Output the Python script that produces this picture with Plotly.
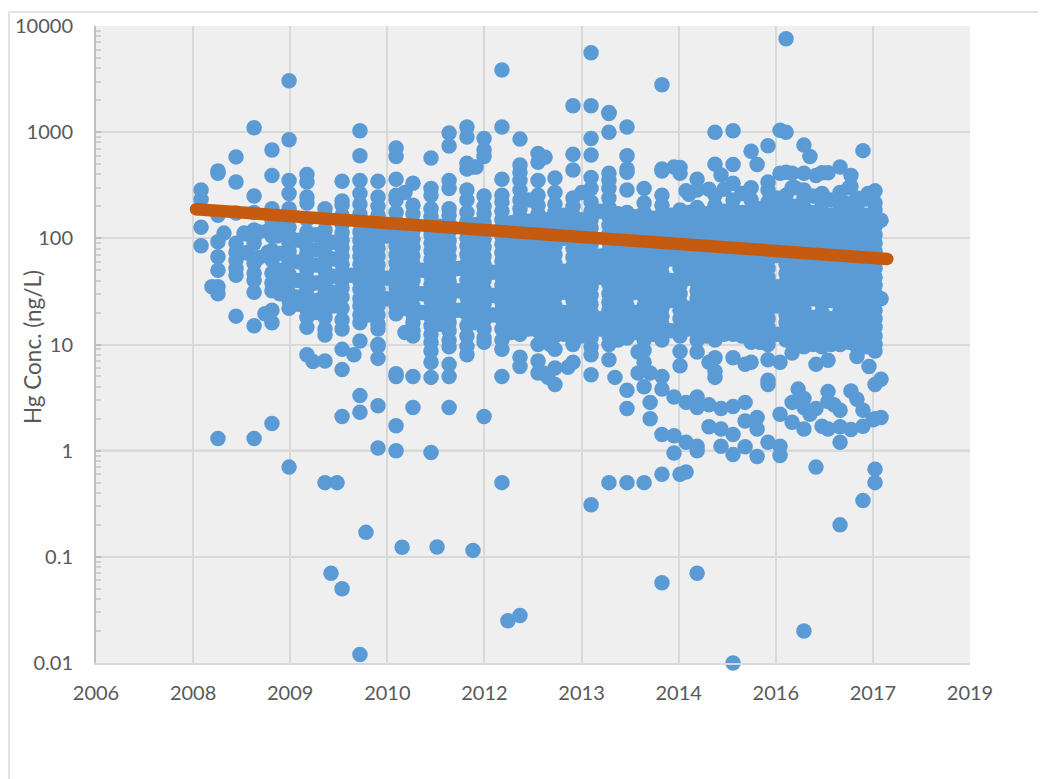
import plotly.graph_objects as go

# Axis: date-style axis measured in days from its start, labelled every 500 days
x_tick_days = [0, 500, 1000, 1500, 2000, 2500, 3000, 3500, 4000, 4500]
x_tick_labels = ["2006", "2008", "2009", "2010", "2012", "2013", "2014", "2016", "2017", "2019"]
y_tick_vals = [0.01, 0.1, 1, 10, 100, 1000, 10000]
y_tick_labels = ["0.01", "0.1", "1", "10", "100", "1000", "10000"]

# Quarterly sampling columns: sample day and Hg concentration (ng/L)
q_days = [541, 628, 721, 814, 906, 994, 1086, 1179, 1267, 1359, 1452, 1545, 1632, 1725, 1818, 1910, 1998, 2090, 2183,
          2276, 2363, 2456, 2549, 2641, 2734, 2822, 2914, 3007, 3095, 3187, 3280, 3373, 3460, 3553, 3645, 3738, 3831, 3918, 4011]
q01 = [285, 232, 127, 85]
q02 = [430, 410, 165, 93, 67, 50, 35, 30, 1.3]
q03 = [585, 340, 173, 90, 74, 62, 52, 45, 18.5]
q04 = [1100, 250, 175, 120, 100, 90, 58, 47, 40, 31, 15, 1.3]
q05 = [680, 390, 190, 150, 124, 105, 77, 62, 47, 38, 32, 21, 16, 1.8]
q06 = [3050, 850, 350, 265, 190, 155, 127, 105, 90, 75, 58, 46, 38, 30, 26, 22, 0.7]
q07 = [400, 340, 245, 215, 150, 115, 100, 82, 72, 62, 50, 42, 33, 27, 21.5, 18, 14.5, 8]
q08 = [190, 150, 120, 100, 85, 72, 60, 50, 42, 36, 30, 25, 21, 18, 14, 12.3, 7, 0.5]
q09 = [345, 225, 205, 165, 135, 113, 96, 81, 68, 57, 48, 40, 34, 28, 22, 17, 14, 9, 5.8, 2.1, 0.05]
q10 = [1030, 600, 350, 265, 210, 170, 140, 115, 96, 80, 68, 57, 47, 39, 33, 27, 23, 19, 16, 10.8, 3.3, 2.3, 0.012]
q11 = [345, 245, 200, 165, 135, 113, 95, 80, 68, 56, 47, 40, 33, 28, 23, 19, 15.5, 14, 10, 9.6, 7.4, 2.65, 1.06]
q12 = [710, 590, 360, 255, 230, 175, 145, 120, 100, 84, 70, 58, 48, 40, 34, 28, 23, 19.5, 5.3, 5, 1.72, 1.0]
q13 = [330, 205, 170, 140, 118, 98, 82, 68, 57, 47, 40, 33, 28, 23, 19, 16, 13.5, 12, 5, 2.55]
q14 = [570, 295, 255, 190, 160, 130, 108, 90, 76, 63, 53, 44, 37, 31, 26, 22, 18, 15, 12.5, 10.5, 8.7, 6.8, 4.9, 0.96]
q15 = [980, 740, 350, 295, 190, 165, 138, 115, 95, 80, 67, 56, 46, 39, 33, 27, 23, 19, 16, 13.5, 11, 9.5, 6.5, 5, 2.55]
q16 = [1120, 900, 510, 450, 285, 230, 175, 145, 120, 100, 84, 70, 58, 48, 40, 33, 28, 23, 19.5, 15, 12, 9.6, 8]
q17 = [870, 680, 590, 250, 200, 170, 140, 118, 98, 82, 68, 57, 47, 40, 33, 28, 24, 20, 17, 14, 11.5, 10.5, 2.1]
q18 = [3850, 1120, 360, 255, 220, 180, 150, 125, 105, 88, 73, 61, 51, 43, 36, 30, 25, 21, 17.5, 14, 11, 9, 5, 0.5]
q19 = [860, 490, 420, 350, 285, 230, 190, 160, 132, 110, 92, 77, 64, 54, 45, 37, 31, 26, 22, 18, 15, 12.5, 7.6, 6.2, 0.028]
q20 = [630, 520, 350, 255, 205, 170, 140, 118, 98, 82, 68, 57, 47, 39, 33, 27, 23, 19, 16, 13.5, 10, 7, 5.4]
q21 = [370, 270, 210, 175, 145, 120, 100, 84, 70, 58, 48, 40, 33, 28, 23, 19, 15, 12, 9, 6, 4.2]
q22 = [1770, 620, 440, 240, 200, 165, 138, 115, 96, 80, 66, 55, 46, 38, 32, 26, 22, 18, 15, 12, 10, 6.8]
q23 = [5600, 1770, 870, 610, 375, 295, 220, 180, 150, 125, 104, 87, 72, 60, 50, 42, 35, 29, 24, 20, 17, 14, 11.5, 9.5, 8, 5.2, 0.31]
q24 = [1530, 1500, 1000, 410, 350, 295, 240, 195, 160, 132, 110, 92, 76, 63, 53, 44, 37, 30, 25, 21, 17.5, 14.5, 12, 10, 7.2, 0.5]
q25 = [1120, 600, 450, 420, 285, 175, 145, 120, 100, 84, 70, 58, 48, 40, 33, 28, 23, 19, 16, 14, 11.5, 3.7, 2.5, 0.5]
q26 = [295, 215, 175, 145, 120, 100, 84, 70, 58, 48, 40, 33, 28, 23, 19, 16, 13.5, 11, 8.8, 6.8, 4, 0.5]
q27 = [2800, 450, 430, 255, 205, 170, 140, 118, 98, 82, 68, 56, 47, 39, 32, 27, 22, 18.5, 15.5, 13, 11, 5, 3.8, 1.42, 0.6, 0.057]
q28 = [465, 410, 185, 155, 130, 108, 90, 75, 62, 52, 43, 36, 30, 25, 21, 17.5, 14.5, 12, 8.6, 6.3, 0.6]
q29 = [360, 285, 195, 165, 138, 115, 96, 80, 67, 55, 46, 38, 32, 27, 22, 18.5, 15.5, 13, 11, 8.5, 3.2, 2.55, 1.1, 1.0, 0.07]
q30 = [1000, 500, 255, 205, 170, 140, 118, 98, 82, 68, 57, 47, 39, 33, 27, 23, 19, 16, 13, 11, 7.5, 5.6, 4.9]
q31 = [1030, 495, 330, 230, 190, 160, 132, 110, 92, 77, 64, 53, 44, 37, 31, 26, 22, 18, 15, 12.5, 7.5, 2.6, 1.42, 0.92, 0.01]
q32 = [660, 300, 230, 190, 160, 132, 110, 92, 77, 64, 53, 44, 37, 31, 26, 22, 18, 15, 12.5, 10.5, 6.8]
q33 = [745, 340, 285, 220, 185, 155, 130, 108, 90, 75, 62, 52, 43, 36, 30, 25, 21, 17.5, 14.5, 12, 10, 7.2, 4.6, 4.2, 1.2]
q34 = [7600, 1000, 420, 255, 200, 170, 140, 118, 98, 82, 68, 57, 47, 39, 33, 27, 23, 19, 16, 13.5, 11]
q35 = [755, 410, 285, 240, 195, 165, 138, 115, 96, 80, 67, 55, 46, 38, 32, 27, 22, 18.5, 15.5, 13, 11, 9.5, 3.1, 2.55, 1.6, 0.02]
q36 = [415, 265, 215, 180, 150, 125, 104, 87, 72, 60, 50, 42, 35, 29, 24, 20, 17, 14, 11.5, 9.5, 1.7]
q37 = [470, 270, 220, 185, 155, 130, 108, 90, 75, 62, 52, 43, 36, 30, 25, 21, 17.5, 14.5, 12, 10, 2.4, 1.68, 1.2, 0.2]
q38 = [240, 200, 170, 140, 118, 98, 82, 68, 57, 47, 39, 33, 27, 23, 19, 16, 13.5, 11, 9.5, 7.7, 3.05]
q39 = [280, 215, 185, 155, 130, 108, 90, 75, 62, 52, 43, 36, 30, 25, 21, 17.5, 14.5, 12, 10, 8.7, 4.2, 2, 0.67, 0.5]
q_values = [q01, q02, q03, q04, q05, q06, q07, q08, q09, q10, q11, q12, q13, q14, q15, q16, q17, q18, q19, q20,
            q21, q22, q23, q24, q25, q26, q27, q28, q29, q30, q31, q32, q33, q34, q35, q36, q37, q38, q39]

# Samples between the quarterly dates, in the dense years
m_days = [947, 1040, 1133, 1220, 1313, 1406, 1498, 1591, 1679, 1771, 1864, 1957, 2044, 2137, 2229, 2322, 2410, 2502, 2595,
          2688, 2775, 2868, 2961, 3053, 3141, 3234, 3326, 3419, 3507, 3599, 3692, 3785, 3877, 3965]
m31 = [72, 50, 30]
m32 = [96, 60, 40, 24]
m33 = [108, 78, 56, 38, 26, 20]
m01 = [92, 64, 44, 31, 23]
m34 = [45]
m02 = [110, 84, 66, 50, 39, 30, 24, 19]
m35 = [105, 42, 27]
m03 = [270, 118, 92, 72, 56, 44, 35, 28, 22, 13]
m36 = [50, 30, 20]
m04 = [130, 100, 79, 62, 49, 39, 31, 25, 20, 15.5]
m37 = [52, 32, 21]
m05 = [470, 135, 105, 83, 65, 51, 41, 32, 26, 20, 16]
m38 = [48, 29, 19]
m06 = [140, 110, 86, 68, 54, 42, 34, 27, 21, 17, 13]
m07 = [230, 145, 112, 88, 70, 55, 44, 35, 28, 22, 18, 14]
m08 = [150, 116, 92, 72, 57, 45, 36, 29, 23, 18, 14.5, 11]
m09 = [165, 128, 100, 49, 39, 31, 20, 16, 12.5]
m10 = [270, 150, 118, 92, 73, 58, 46, 37, 29, 23, 19, 15, 12]
m11 = [180, 68, 54, 43, 17.5, 14]
m12 = [170, 132, 104, 82, 65, 52, 41, 33, 26, 21, 17, 13.5, 11]
m13 = [160, 125, 98, 78, 62, 49, 39, 31, 20, 16, 13]
m14 = [155, 120, 95, 75, 60, 48, 38, 30, 24, 19.5, 15.5, 12.5]
m15 = [165, 130, 102, 80, 64, 40, 32, 26, 13.5]
m16 = [260, 175, 135, 106, 84, 66, 53, 42, 22, 17.5, 14]
m17 = [170, 134, 106, 84, 66, 53, 42, 34, 27, 22, 18, 14.5, 12]
m18 = [290, 180, 140, 110, 87, 69, 55, 44, 35, 28, 23, 18.5, 15, 12.5]
m19 = [265, 175, 136, 107, 85, 67, 53, 43, 34, 27, 22, 18, 14.5, 12]
m20 = [190, 145, 114, 90, 71, 57, 45, 36, 29, 23, 19, 15, 12.5, 10.5]
m21 = [240, 180, 140, 110, 87, 69, 35, 28, 23, 12.5]
m22 = [300, 200, 150, 118, 93, 74, 59, 47, 38, 30, 24, 19.5, 16, 13, 11]
m23 = [250, 175, 136, 107, 85, 67, 53, 43, 34, 27, 18, 14.5, 12, 10]
m24 = [230, 165, 130, 102, 81, 64, 51, 41, 33, 26, 17.5, 14, 11.5, 10]
m25 = [300, 195, 145, 114, 90, 71, 57, 45, 36, 29, 23, 19, 15, 12.5, 10.5]
m26 = [235, 165, 130, 102, 81, 64, 51, 41, 33, 26, 21, 17.5, 14, 11.5, 9.5]
m_values = [m31, m32, m33, m01, m34, m02, m35, m03, m36, m04, m37, m05, m38, m06, m07, m08, m09, m10, m11, m12,
            m13, m14, m15, m16, m17, m18, m19, m20, m21, m22, m23, m24, m25, m26]

# Individual off-date samples
extra_days = [597, 659, 777, 777, 870, 963, 963, 1035, 1117, 1241, 1210, 1328, 1390, 1576, 1756, 1941, 2121,
              2327, 2302, 2338, 2430, 2672, 2791, 2791, 2853, 2853, 2853, 2976, 2976, 2976, 3038, 3038, 3038,
              3156, 3156, 3156, 3218, 3218, 3218, 3342, 3342, 3342, 3342, 3404, 3404, 3404, 3522, 3522, 3522, 3522,
              3584, 3584, 3584, 3615, 3676, 3707, 3707, 3707, 3769, 3769, 3769, 3769, 3800, 3887, 3887,
              3949, 3949, 3949, 3980, 4042, 4042, 4042, 4042, 4001,
              762, 839, 885, 932, 777, 839, 885,
              3522, 3522, 3584, 3584, 3707, 3769, 3887, 3887, 3676, 3949, 2976, 3404, 3218, 3331, 3156, 3038,
              1941, 2312, 3975, 3857]
extra_values = [35, 112, 110, 73, 19.5, 38, 130, 28, 6.9, 0.5, 0.07, 8, 0.17, 0.123, 0.124, 0.115, 0.025,
                4.9, 5.4, 10, 6.1, 4.9, 8.5, 5.4, 5.4, 2.85, 2, 3.2, 1.38, 0.95, 2.85, 1.2, 0.63,
                2.7, 1.68, 6.8, 2.5, 1.6, 1.1, 2.85, 1.9, 1.09, 6.5, 2.05, 1.6, 0.88, 1.1, 0.9, 2.2, 6.8,
                8.3, 2.85, 1.85, 3.8, 2.2, 6.5, 2.5, 0.7, 7.1, 3.6, 2.9, 1.6, 2.7, 3.65, 1.58,
                2.4, 1.7, 0.34, 6.2, 4.7, 2.05, 148, 27, 1.95,
                112, 115, 118, 105, 73, 66, 74,
                1040, 410, 410, 300, 390, 415, 390, 310, 590, 670, 470, 495, 395, 265, 290, 280,
                470, 580, 265, 215]

# Exponential trend line end points
trend_days = [515, 4074]
trend_values = [188, 64]

point_x, point_y = [], []
for d, vals in zip(q_days, q_values):
    point_x += [d] * len(vals)
    point_y += vals
for d, vals in zip(m_days, m_values):
    point_x += [d] * len(vals)
    point_y += vals
point_x += extra_days
point_y += extra_values

FONT = "Lato"
TXT = "#595959"
PX_W, PX_H = 1038, 771
L, R, T, B = 88, 76, 18, 116
W, H = PX_W - L - R, PX_H - T - B

fig = go.Figure()
fig.add_trace(go.Scatter(x=point_x, y=point_y, mode="markers", name="Hg",
                         marker=dict(color="#5B9BD5", size=15.5, line=dict(width=0)), cliponaxis=False))
fig.add_trace(go.Scatter(x=trend_days, y=trend_values, mode="lines+markers", name="Trend",
                         line=dict(color="#C55A11", width=12.5),
                         marker=dict(color="#C55A11", size=12.5, line=dict(width=0)), cliponaxis=False))

fig.update_layout(
    width=PX_W, height=PX_H, autosize=False, showlegend=False,
    margin=dict(l=L, r=R, t=T, b=B, pad=0, autoexpand=False),
    paper_bgcolor="white", plot_bgcolor="#EFEFEF",
    font=dict(family=FONT, size=20, color=TXT),
    xaxis=dict(range=[0, 4500], tickmode="array", tickvals=x_tick_days, ticktext=x_tick_labels, automargin=False,
               showgrid=True, gridcolor="#D9D9D9", gridwidth=1.5, zeroline=False,
               showline=True, linecolor="#D9D9D9", linewidth=2, ticks="", ticklabelstandoff=11,
               tickfont=dict(family=FONT, size=20, color=TXT)),
    yaxis=dict(type="log", range=[-2, 4], tickmode="array", tickvals=y_tick_vals, ticktext=y_tick_labels, automargin=False,
               showgrid=True, gridcolor="#D9D9D9", gridwidth=1.5, zeroline=False,
               showline=True, linecolor="#BFBFBF", linewidth=2, ticks="inside", ticklen=5, tickcolor="#BFBFBF",
               tickwidth=1.5, ticklabelstandoff=17,
               minor=dict(ticks="inside", ticklen=5, tickcolor="#D0D0D0", tickwidth=1.5, dtick="D1", showgrid=False),
               tickfont=dict(family=FONT, size=20, color=TXT)),
    shapes=[
        dict(type="line", xref="paper", yref="paper", x0=0, x1=1, y0=1 / 3, y1=1 / 3,
             line=dict(color="#BFBFBF", width=2), layer="below"),
        dict(type="line", xref="paper", yref="paper", x0=(1 - L) / W, x1=(1 - L) / W,
             y0=(T + H - 771) / H, y1=(T + H - 4) / H, line=dict(color="#D9D9D9", width=1.5)),
        dict(type="line", xref="paper", yref="paper", x0=(1 - L) / W, x1=(1038 - L) / W,
             y0=(T + H - 4) / H, y1=(T + H - 4) / H, line=dict(color="#D9D9D9", width=1.5)),
    ],
    annotations=[
        dict(text="Hg Conc. (ng/L)", xref="paper", yref="paper", x=(24 - L) / W, y=(T + H - 339) / H,
             showarrow=False, textangle=-90, xanchor="center", yanchor="middle",
             font=dict(family=FONT, size=22.5, color=TXT)),
    ],
)
fig.write_html("out.html")
